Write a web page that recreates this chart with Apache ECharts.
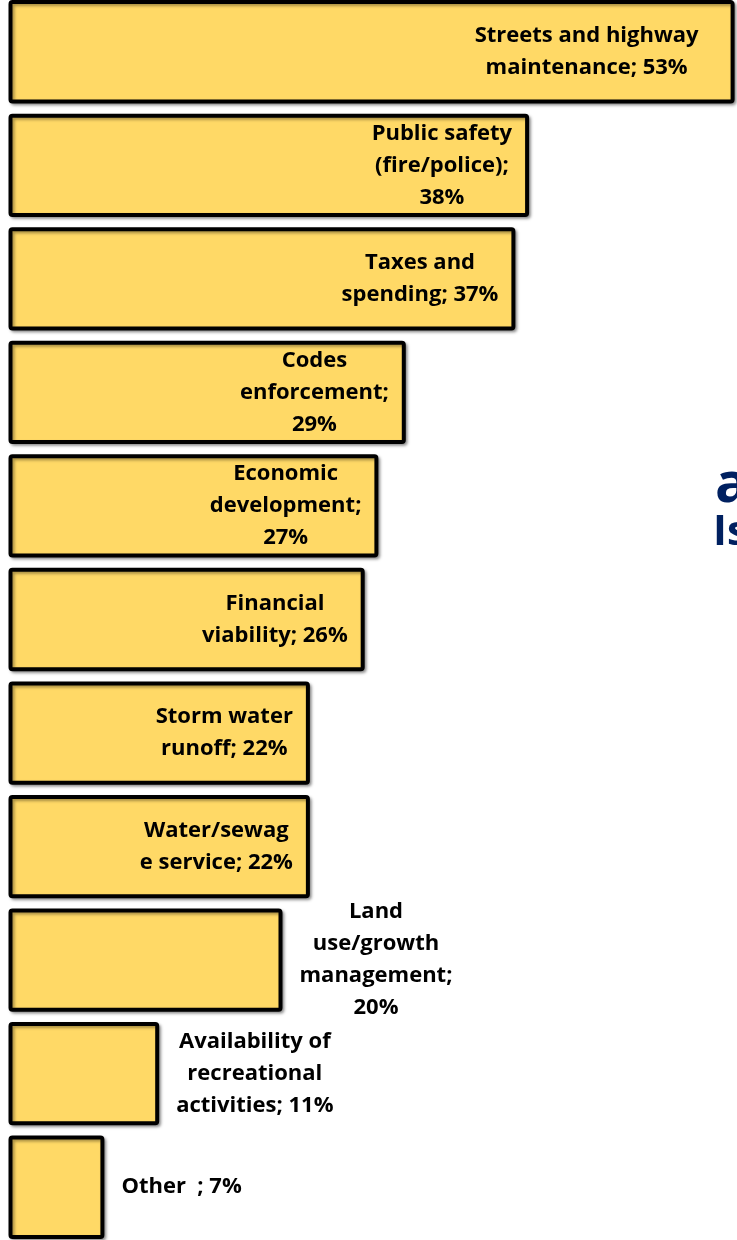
<!DOCTYPE html>
<html>
<head>
<meta charset="utf-8">
<title>Issues</title>
<script src="https://cdn.jsdelivr.net/npm/echarts@6/dist/echarts.min.js"></script>
<style>
    html, body { margin: 0; padding: 0; background: #fff; overflow: hidden; }
    #container { width: 737px; height: 1240px; }
</style>
</head>
<body>
<div id="container"></div>
<script>
    // categories, top to bottom
    var categories = ['Streets and highway maintenance', 'Public safety (fire/police)', 'Taxes and spending',
        'Codes enforcement', 'Economic development', 'Financial viability', 'Storm water runoff',
        'Water/sewage service', 'Land use/growth management', 'Availability of recreational activities', 'Other'];
    var values = [53, 38, 37, 29, 27, 26, 22, 22, 20, 11, 7];
    // label lines as wrapped in the picture, {v} is the value
    var labelLines = [
        ['Streets and highway', 'maintenance; {v}%'],
        ['Public safety', '(fire/police);', '{v}%'],
        ['Taxes and', 'spending; {v}%'],
        ['Codes', 'enforcement;', '{v}%'],
        ['Economic', 'development;', '{v}%'],
        ['Financial', 'viability; {v}%'],
        ['Storm water', 'runoff; {v}%'],
        ['Water/sewag', 'e service; {v}%'],
        ['Land', 'use/growth', 'management;', '{v}%'],
        ['Availability of', 'recreational', 'activities; {v}%'],
        ['Other  ; {v}%']
    ];
    // labels that sit outside the bar
    var outside = [false, false, false, false, false, false, false, false, true, true, true];

    var dom = document.getElementById("container");
    var myChart = echarts.init(dom);

    var data = values.map(function (v, i) {
        var lbl = outside[i]
            ? {position: 'right', distance: 17}
            : {position: 'insideRight', distance: i === 0 ? 36 : 17};
        return {value: v, name: categories[i], label: lbl};
    });

    var option = {
        backgroundColor: '#fff',
        animation: false,
        graphic: [
            {
                type: 'text', left: 715, top: 458,
                style: {text: 'a', font: 'bold 56px "Open Sans"', fill: '#002060'}
            },
            {
                type: 'text', left: 713, top: 512,
                style: {text: 'Is', font: 'bold 42px "Open Sans"', fill: '#002060'}
            }
        ],
        // the picture is a crop of a bigger slide, so the grid runs past the edges
        grid: {left: 8.5, top: -5, width: 753.5, height: 1249, outerBoundsMode: 'none'},
        xAxis: {
            type: 'value', min: 0, max: 55,
            show: false
        },
        yAxis: {
            type: 'category', data: categories, inverse: true,
            show: false
        },
        series: [
            {
                type: 'bar',
                barCategoryGap: '9%',
                data: data,
                itemStyle: {
                    color: '#FFD966',
                    borderColor: '#000',
                    borderWidth: 4,
                    borderRadius: 2,
                    shadowColor: 'rgba(0,0,0,0.35)',
                    shadowBlur: 3,
                    shadowOffsetX: 2,
                    shadowOffsetY: 2
                },
                label: {
                    show: true,
                    formatter: function (p) {
                        return labelLines[p.dataIndex].map(function (s) {
                            return '{c|' + s.replace('{v}', p.value) + '}';
                        }).join('\n');
                    },
                    rich: {
                        c: {
                            align: 'center',
                            fontFamily: 'Open Sans',
                            fontWeight: 'bold',
                            fontSize: 22,
                            lineHeight: 32,
                            color: '#000'
                        }
                    }
                }
            }
        ]
    };
    if (option && typeof option === "object") {
        myChart.setOption(option, true);
    }
</script>
</body>
</html>
